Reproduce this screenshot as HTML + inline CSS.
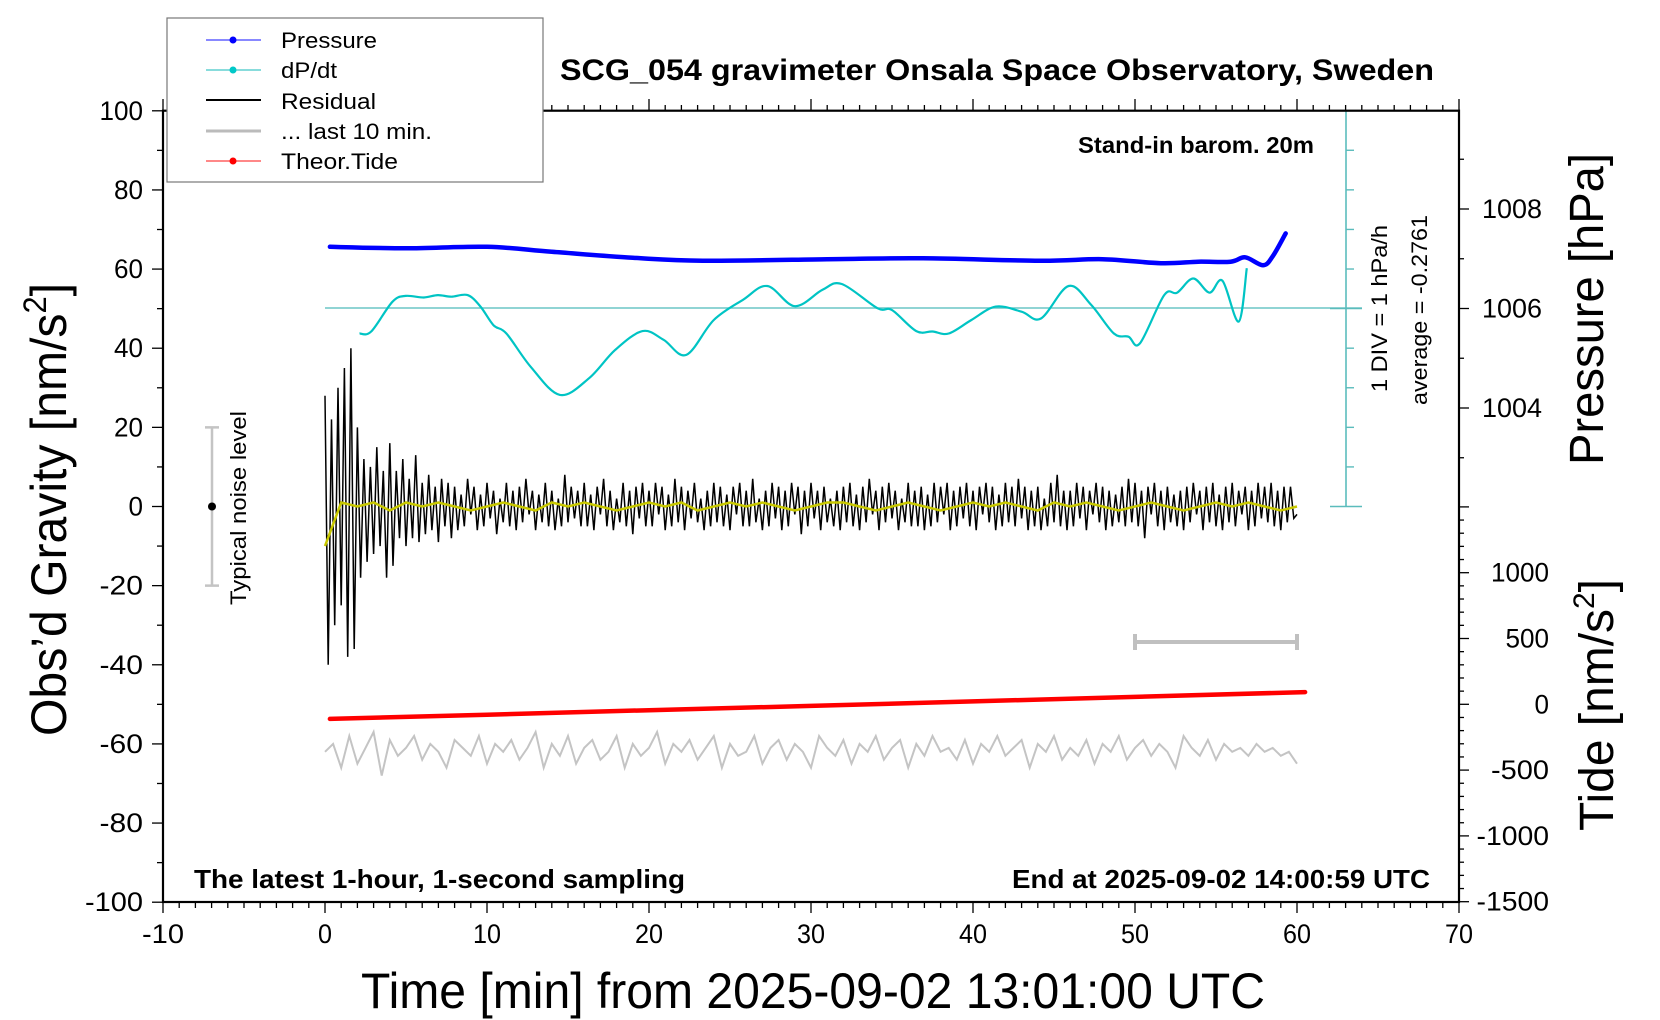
<!DOCTYPE html>
<html><head><meta charset="utf-8">
<style>
html,body{margin:0;padding:0;background:#fff;}
svg{display:block;font-family:"Liberation Sans",Arial,sans-serif;}
</style></head>
<body>
<svg id="chart" width="1660" height="1020" viewBox="0 0 1660 1020" xmlns="http://www.w3.org/2000/svg">
<rect x="0" y="0" width="1660" height="1020" fill="#fff"/>
<g id="marks"></g>
<g id="axes"></g>
<g id="texts">
 <text x="560" y="80" font-size="30" font-weight="bold" textLength="874" lengthAdjust="spacingAndGlyphs">SCG_054 gravimeter Onsala Space Observatory, Sweden</text>
 <text x="1078" y="153" font-size="23" font-weight="bold" textLength="236" lengthAdjust="spacingAndGlyphs">Stand-in barom. 20m</text>
 <text x="194" y="888" font-size="26" font-weight="bold" textLength="491" lengthAdjust="spacingAndGlyphs">The latest 1-hour, 1-second sampling</text>
 <text x="1012" y="888" font-size="26" font-weight="bold" textLength="418" lengthAdjust="spacingAndGlyphs">End at 2025-09-02 14:00:59 UTC</text>
 <text x="361" y="1008" font-size="50" textLength="904" lengthAdjust="spacingAndGlyphs">Time [min] from 2025-09-02 13:01:00 UTC</text>
 <text transform="translate(66,736) rotate(-90)" x="0" y="0" font-size="50" textLength="453" lengthAdjust="spacingAndGlyphs">Obs’d Gravity [nm/s<tspan font-size="32" dy="-20">2</tspan><tspan dy="20">]</tspan></text>
 <text transform="translate(1603,465) rotate(-90)" x="0" y="0" font-size="48" textLength="312" lengthAdjust="spacingAndGlyphs">Pressure [hPa]</text>
 <text transform="translate(1613,831) rotate(-90)" x="0" y="0" font-size="48" textLength="252" lengthAdjust="spacingAndGlyphs">Tide [nm/s<tspan font-size="30" dy="-19">2</tspan><tspan dy="19">]</tspan></text>
 <text transform="translate(1387,392) rotate(-90)" x="0" y="0" font-size="22" textLength="167" lengthAdjust="spacingAndGlyphs">1 DIV = 1 hPa/h</text>
 <text transform="translate(1427,405) rotate(-90)" x="0" y="0" font-size="22" textLength="190" lengthAdjust="spacingAndGlyphs">average = -0.2761</text>
 <text transform="translate(246,605) rotate(-90)" x="0" y="0" font-size="22" textLength="194" lengthAdjust="spacingAndGlyphs">Typical noise level</text>
</g>
<g id="legend">
 <rect x="167" y="18" width="376" height="164" fill="#fff" stroke="#777" stroke-width="1.2"/>
 <g><line x1="206" y1="40" x2="261" y2="40" stroke="#4040ff" stroke-width="1.2"/><circle cx="233" cy="40" r="3.5" fill="#0000ff"/><text x="281" y="48" font-size="22" textLength="96" lengthAdjust="spacingAndGlyphs">Pressure</text></g>
 <g><line x1="206" y1="70" x2="261" y2="70" stroke="#40c8c8" stroke-width="1.2"/><circle cx="233" cy="70" r="3.5" fill="#00c8c8"/><text x="281" y="78" font-size="22" textLength="56" lengthAdjust="spacingAndGlyphs">dP/dt</text></g>
 <g><line x1="206" y1="100" x2="261" y2="100" stroke="#000" stroke-width="2"/><text x="281" y="109" font-size="22" textLength="95" lengthAdjust="spacingAndGlyphs">Residual</text></g>
 <g><line x1="206" y1="131" x2="261" y2="131" stroke="#bbb" stroke-width="3"/><text x="281" y="139" font-size="22" textLength="151" lengthAdjust="spacingAndGlyphs">... last 10 min.</text></g>
 <g><line x1="206" y1="161" x2="261" y2="161" stroke="#ff4040" stroke-width="1.2"/><circle cx="233" cy="161" r="3.5" fill="#ff0000"/><text x="281" y="169" font-size="22" textLength="117" lengthAdjust="spacingAndGlyphs">Theor.Tide</text></g>
</g>
</svg>
<script>
// ---- data ----
const xTicks = [-10,0,10,20,30,40,50,60,70];
const gTicks = [100,80,60,40,20,0,-20,-40,-60,-80,-100];
const pTicks = [1008,1006,1004];
const tideTicks = [1000,500,0,-500,-1000,-1500];
const pressureT = [0.3,5,10,14,19,23.3,31,36.9,44.1,48,51.6,53.9,55.9,56.8,57.9,58.5,59.3];
const pressureV = [1007.24,1007.21,1007.24,1007.14,1007.02,1006.96,1006.99,1007.01,1006.96,1006.99,1006.91,1006.94,1006.94,1007.03,1006.87,1007.05,1007.51];
const dpdtT = [2.13,2.85,4.16,4.98,6.1,6.97,7.8,8.8,9.6,10.4,11.2,12.7,14.5,16.3,17.9,19.6,20.9,22.3,24.0,25.8,27.3,29.0,30.7,31.9,34.1,35.0,36.5,37.5,38.5,39.9,41.4,43.0,44.2,45.9,47.3,48.7,49.6,50.3,51.8,52.6,53.6,54.6,55.4,56.4,56.9];
const dpdtV = [-0.92,-0.87,-0.12,0.03,-0.01,0.05,0.01,0.05,-0.24,-0.71,-0.92,-1.76,-2.47,-2.05,-1.34,-0.86,-1.08,-1.46,-0.58,-0.07,0.28,-0.23,0.18,0.33,-0.28,-0.33,-0.86,-0.87,-0.92,-0.58,-0.24,-0.37,-0.54,0.28,-0.20,-0.92,-1.00,-1.17,0.05,0.11,0.47,0.11,0.41,-0.62,0.73];
const dpdtAverage = -0.2761;
const residualV = [28,-40,22,-30,30,-25,35,-38,40,-36,
20,-18,12,-14,10,-12,15,-10,9,-18, 16,-15,9,-8,12,-10,7,-8,13,-9, 6,-7,8,-6,5,-9,7,-5,6,-8,
5,-6,3,-5,7,-2,5,-6,3,-5, 6,-3,4,-7,2,-4,6,-5,4,-6, 5,-4,7,-2,4,-6,3,-4,6,-5, 4,-6,2,-5,8,-4,5,-3,4,-5,
6,-5,3,-6,5,-2,7,-5,4,-6, 2,-4,6,-5,4,-7,5,-3,6,-5, 4,-5,6,-2,5,-6,3,-5,7,-4, 5,-6,4,-3,6,-4,2,-6,4,-5,
6,-4,5,-5,3,-6,5,-2,6,-5, 4,-5,7,-4,2,-6,4,-5,6,-3, 5,-6,4,-5,6,-2,5,-7,4,-5, 6,-3,4,-6,5,-4,2,-5,4,-6,
5,-4,6,-5,3,-6,5,-4,7,-2, 4,-6,5,-4,6,-3,4,-6,2,-4, 6,-5,4,-5,5,-6,3,-5,6,-4, 5,-2,6,-6,4,-5,5,-3,6,-5,
4,-6,5,-2,6,-4,5,-6,3,-5, 6,-4,5,-5,7,-3,5,-6,4,-5, 5,-6,2,-5,6,-4,8,-5,4,-6, 4,-5,6,-3,5,-6,4,-2,6,-4,
5,-6,4,-5,3,-4,5,-5,7,-4, 6,-5,4,-8,5,-2,6,-5,4,-6, 5,-4,3,-5,4,-6,5,-4,6,-2, 4,-6,5,-4,6,-5,3,-6,5,-4,
6,-5,4,-2,5,-6,4,-5,6,-3, 5,-4,6,-5,4,-6,5,-4,5,-3,-2];
const smoothV = [-10,1,0,1,-1,1,0,1,0,-1,0,1,0,-1,1,0,1,0,-1,0,1,0,1,-1,0,1,0,1,0,-1,0,1,1,0,-1,0,1,0,-1,0,1,0,1,0,-1,1,0,1,0,-1,0,1,0,-1,0,1,0,1,0,-1,0];
const lastTenV = [-62,-60,-66,-58,-65,-61,-57,-68,-59,-63,-61,-58,-64,-60,-62,-66,-59,-61,-63,-58,-65,-60,-62,-59,-64,-61,-57,-66,-60,-63,-58,-65,-61,-59,-64,-62,-58,-66,-60,-63,-61,-57,-65,-60,-62,-59,-64,-61,-58,-66,-60,-63,-62,-58,-65,-61,-59,-64,-60,-62,-66,-58,-61,-63,-59,-65,-60,-62,-58,-64,-61,-59,-66,-60,-63,-58,-62,-61,-64,-59,-65,-60,-62,-58,-63,-61,-59,-66,-60,-62,-58,-64,-61,-63,-59,-65,-60,-62,-58,-64,-61,-59,-63,-60,-62,-66,-58,-61,-63,-59,-64,-60,-62,-61,-63,-60,-62,-61,-63,-62,-65];
const tideT = [0.3,10,20,30,40,50,60.5];
const tideV = [-111,-79,-45,-12,22,56,93];

// ---- scales ----
const X = t => 163 + (t + 10) * 16.2;
const G = g => 506.5 - g * 3.957;
const P = p => 209 + (1008 - p) * 49.75;
const TD = v => 704.3 - v * 0.1316;
const DP = v => 308 - (v - dpdtAverage) * 39.6;
const NS = 'http://www.w3.org/2000/svg';
const marks = document.getElementById('marks');
const axes = document.getElementById('axes');
function mk(tag, attrs, parent){ const e = document.createElementNS(NS, tag); for (const k in attrs) e.setAttribute(k, attrs[k]); parent.appendChild(e); return e; }
function smoothPath(pts){
  let d = 'M' + pts[0][0].toFixed(1) + ',' + pts[0][1].toFixed(1);
  for (let i = 0; i < pts.length - 1; i++) {
    const p0 = pts[Math.max(0,i-1)], p1 = pts[i], p2 = pts[i+1], p3 = pts[Math.min(pts.length-1,i+2)];
    const c1 = [p1[0]+(p2[0]-p0[0])/6, p1[1]+(p2[1]-p0[1])/6];
    const c2 = [p2[0]-(p3[0]-p1[0])/6, p2[1]-(p3[1]-p1[1])/6];
    d += 'C'+c1[0].toFixed(1)+','+c1[1].toFixed(1)+' '+c2[0].toFixed(1)+','+c2[1].toFixed(1)+' '+p2[0].toFixed(1)+','+p2[1].toFixed(1);
  }
  return d;
}

// dP/dt axis
let e = mk('line',{x1:1346,y1:110.7,x2:1346,y2:506.5,stroke:'#5bbcbc','stroke-width':1.6},axes);


for (let i = 0; i <= 10; i++) {
  const y = 110.7 + i * 39.58;
  const big = (i === 0 || i === 5 || i === 10);
  e = mk('line',{x1: big ? 1330 : 1346, y1:y, x2: big ? 1362 : 1354, y2:y, stroke:'#5bbcbc','stroke-width':1.4},axes);
  
  
}
e = mk('line',{x1:X(0),y1:DP(dpdtAverage),x2:1362,y2:DP(dpdtAverage),stroke:'#6cc6c6','stroke-width':1.6},marks);



// residual
let pts = residualV.map((v,i)=>X(i*0.2).toFixed(1)+','+G(v).toFixed(1)).join(' ');
e = mk('polyline',{points:pts,fill:'none',stroke:'#000','stroke-width':1.5,'stroke-linejoin':'miter'},marks);


pts = smoothV.map((v,i)=>X(i).toFixed(1)+','+G(v).toFixed(1)).join(' ');
e = mk('polyline',{points:pts,fill:'none',stroke:'#c8c800','stroke-width':2.5},marks);



// last 10 min grey
pts = lastTenV.map((v,i)=>X(i*60/(lastTenV.length-1)).toFixed(1)+','+G(v).toFixed(1)).join(' ');
e = mk('polyline',{points:pts,fill:'none',stroke:'#c4c4c4','stroke-width':2},marks);



// pressure
e = mk('path',{d:smoothPath(pressureT.map((t,i)=>[X(t),P(pressureV[i])])),fill:'none',stroke:'#0000ff','stroke-width':4.5,'stroke-linecap':'round'},marks);



// dP/dt
e = mk('path',{d:smoothPath(dpdtT.map((t,i)=>[X(t),DP(dpdtV[i])])),fill:'none',stroke:'#00c4c4','stroke-width':2.2},marks);



// tide
pts = tideT.map((t,i)=>X(t).toFixed(1)+','+TD(tideV[i]).toFixed(1)).join(' ');
e = mk('polyline',{points:pts,fill:'none',stroke:'#ff0000','stroke-width':4.5,'stroke-linecap':'round'},marks);



// noise-level bar
e = mk('path',{d:'M'+212+','+G(20)+'V'+G(-20)+'M205,'+G(20)+'H219M205,'+G(-20)+'H219',stroke:'#c4c4c4','stroke-width':2.5,fill:'none'},marks);


e = mk('circle',{cx:212,cy:G(0),r:4,fill:'#000'},marks);


// last 10 min bracket
e = mk('path',{d:'M'+X(50)+',642H'+X(60)+'M'+X(50)+',634V650M'+X(60)+',634V650',stroke:'#c0c0c0','stroke-width':4,fill:'none'},marks);



// frame
e = mk('rect',{x:163,y:110.7,width:1296,height:791.3,fill:'none',stroke:'#000','stroke-width':2.2},axes);



// x ticks (bottom and top)
for (let t = -10; t <= 70; t++) {
  const major = t % 10 === 0;
  const x = X(t);
  e = mk('line',{x1:x,y1:902,x2:x,y2:major?913:908,stroke:'#000','stroke-width':1.3},axes);
  
  
  e = mk('line',{x1:x,y1:110.7,x2:x,y2:major?99:105,stroke:'#000','stroke-width':1.3},axes);
  
  
}
xTicks.forEach(t=>{
  const s = String(t);
  e = mk('text',{x:X(t),y:943,'font-size':27,'text-anchor':'middle',textLength:s.length*14,lengthAdjust:'spacingAndGlyphs'},axes);
  e.textContent = s;
  
  
});
// left ticks
for (let g = -100; g <= 100; g += 10) {
  const major = g % 20 === 0;
  e = mk('line',{x1:163,y1:G(g),x2:major?152:157,y2:G(g),stroke:'#000','stroke-width':1.3},axes);
  
  
}
gTicks.forEach(g=>{
  const s = String(g);
  e = mk('text',{x:143,y:G(g)+9,'font-size':27,'text-anchor':'end',textLength:s.length*14.5,lengthAdjust:'spacingAndGlyphs'},axes);
  e.textContent = s;
  
  
});
// pressure ticks
for (let p = 1003; p <= 1009; p++) {
  const major = p % 2 === 0;
  e = mk('line',{x1:1459,y1:P(p),x2:major?1469:1464,y2:P(p),stroke:'#000','stroke-width':1.3},axes);
  
  
}
pTicks.forEach(p=>{
  e = mk('text',{x:1482,y:P(p)+9,'font-size':27,textLength:60,lengthAdjust:'spacingAndGlyphs'},axes);
  e.textContent = String(p);
  
  
});
// tide ticks
for (let v = -1500; v <= 1500; v += 100) {
  const major = v % 500 === 0;
  e = mk('line',{x1:1459,y1:TD(v),x2:major?1469:1464,y2:TD(v),stroke:'#000','stroke-width':1.3},axes);
  
  
}
tideTicks.forEach(v=>{
  const s = String(v);
  e = mk('text',{x:1549,y:TD(v)+9,'font-size':27,'text-anchor':'end',textLength:s.length*14.5,lengthAdjust:'spacingAndGlyphs'},axes);
  e.textContent = s;
  
  
});
// move legend to top
const svg = document.getElementById('chart');
svg.appendChild(document.getElementById('legend'));
</script>
</body></html>
